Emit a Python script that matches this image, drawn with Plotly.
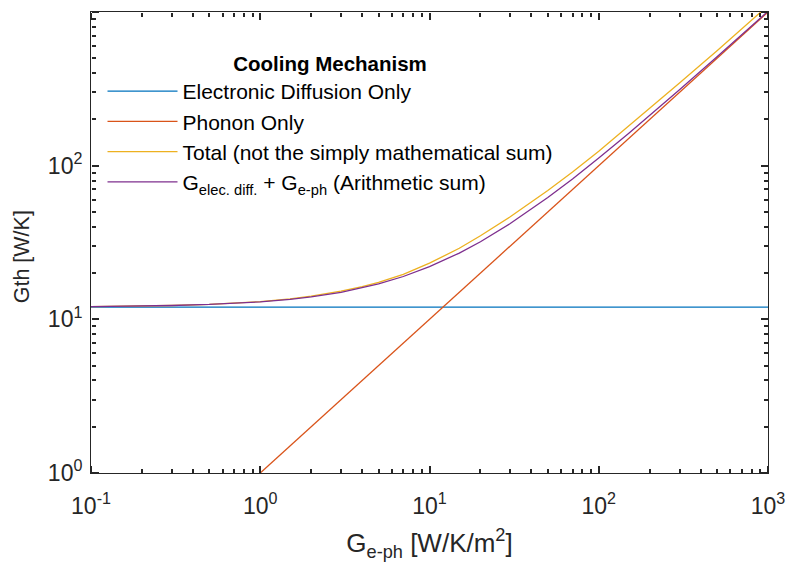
import plotly.graph_objects as go

# Data
g_eph = [0.1, 0.2, 0.3, 0.5, 0.7, 1, 1.5, 2, 3, 4, 5, 7, 10, 15, 20, 30, 50, 70,
         100, 150, 200, 300, 500, 700, 1000]
g_elec_only = [12] * len(g_eph)
g_phonon_only = [0.1, 0.2, 0.3, 0.5, 0.7, 1, 1.5, 2, 3, 4, 5, 7, 10, 15, 20, 30, 50, 70,
                 100, 150, 200, 300, 500, 700, 1000]
g_total = [12.1, 12.2, 12.3, 12.5, 12.7, 13.05, 13.6, 14.15, 15.25, 16.3, 17.4, 19.6,
           23.2, 29, 35, 46.5, 69, 91, 124, 180, 235, 345, 560, 780, 1100]
g_sum = [12.1, 12.2, 12.3, 12.5, 12.7, 13, 13.5, 14, 15, 16, 17, 19, 22, 27, 32, 42,
         62, 82, 112, 162, 212, 312, 512, 712, 1012]

series_names = ["Electronic Diffusion Only", "Phonon Only",
                "Total (not the simply mathematical sum)",
                "G<sub>elec. diff.</sub> + G<sub>e-ph</sub> (Arithmetic sum)"]
series_values = [g_elec_only, g_phonon_only, g_total, g_sum]
colors = ["#0072BD", "#D95319", "#EDB120", "#7E2F8E"]

x_tickvals = [0.1, 1, 10, 100, 1000]
x_ticktext = ["10<sup>-1</sup>", "10<sup>0</sup>", "10<sup>1</sup>", "10<sup>2</sup>", "10<sup>3</sup>"]
y_tickvals = [1, 10, 100, 1000]
y_ticktext = ["10<sup>0</sup>", "10<sup>1</sup>", "10<sup>2</sup>", "10<sup>3</sup>"]

FONT = "Liberation Sans, Arial, Helvetica, sans-serif"
AX = "#262626"
X_RANGE = [-1, 3]
Y_RANGE = [0, 3]
MAJOR_LEN = 7
MINOR_LEN = 4


def minor_vals(decades):
    return [m * d for d in decades for m in range(2, 10)]


x_minor = minor_vals([0.1, 1, 10, 100])
y_minor = minor_vals([1, 10, 100])

fig = go.Figure()
for name, vals, c in zip(series_names, series_values, colors):
    fig.add_trace(go.Scatter(x=g_eph, y=vals, mode="lines", name=name,
                             line=dict(color=c, width=1.3)))

tickfont = dict(family=FONT, size=23, color=AX)
layout_axes = dict(
    xaxis=dict(type="log", range=X_RANGE, showgrid=False, zeroline=False,
               showline=True, linecolor=AX, linewidth=1, mirror=True,
               ticks="outside", ticklen=12, tickcolor="rgba(0,0,0,0)",
               tickmode="array", tickvals=x_tickvals, ticktext=x_ticktext,
               tickfont=tickfont,
               title=dict(text="G<sub>e-ph</sub> [W/K/m<sup>2</sup>]",
                          font=dict(family=FONT, size=26, color=AX), standoff=16)),
    yaxis=dict(type="log", range=Y_RANGE, showgrid=False, zeroline=False,
               showline=True, linecolor=AX, linewidth=1, mirror=True,
               ticks="outside", ticklen=3, tickcolor="rgba(0,0,0,0)",
               tickmode="array", tickvals=y_tickvals, ticktext=y_ticktext,
               tickfont=tickfont),
)

# Tick-only overlay axes: an axis placed on one edge but "sided" to the opposite
# edge draws its outside ticks into the plot area (MATLAB-style inward ticks).
tick_specs = []
n = 2
for vals, length in [(x_tickvals, MAJOR_LEN), (x_minor, MINOR_LEN)]:
    for side, pos in [("top", 0), ("bottom", 1)]:
        name = f"xaxis{n}"
        layout_axes[name] = dict(type="log", range=X_RANGE, overlaying="x", anchor="free",
                                 position=pos, side=side, showgrid=False, zeroline=False,
                                 showline=False, ticks="outside", ticklen=length,
                                 tickcolor=AX, tickwidth=1.5, tickmode="array",
                                 tickvals=vals, showticklabels=False)
        tick_specs.append((f"x{n}", "y"))
        n += 1
n = 2
for vals, length in [(y_tickvals, MAJOR_LEN), (y_minor, MINOR_LEN)]:
    for side, pos in [("right", 0), ("left", 1)]:
        name = f"yaxis{n}"
        layout_axes[name] = dict(type="log", range=Y_RANGE, overlaying="y", anchor="free",
                                 position=pos, side=side, showgrid=False, zeroline=False,
                                 showline=False, ticks="outside", ticklen=length,
                                 tickcolor=AX, tickwidth=1.5, tickmode="array",
                                 tickvals=vals, showticklabels=False)
        tick_specs.append(("x", f"y{n}"))
        n += 1

for xa, ya in tick_specs:
    fig.add_trace(go.Scatter(x=[], y=[], xaxis=xa, yaxis=ya, showlegend=False,
                             hoverinfo="skip"))

fig.add_annotation(text="Gth [W/K]", xref="paper", yref="paper", x=-0.102, y=0.47,
                   xanchor="center", yanchor="middle", textangle=-90, showarrow=False,
                   font=dict(family=FONT, size=21.5, color=AX))

fig.update_layout(
    **layout_axes,
    width=786, height=575,
    margin=dict(l=91, r=18, t=12, b=102, autoexpand=False),
    plot_bgcolor="white", paper_bgcolor="white",
    font=dict(family=FONT, color="black"),
    legend=dict(
        x=0.017, y=0.93, xanchor="left", yanchor="top",
        bgcolor="rgba(255,255,255,0)", borderwidth=0,
        font=dict(family=FONT, size=21, color="black"),
        title=dict(text="<b>Cooling Mechanism</b>", side="top center",
                   font=dict(family=FONT, size=20.5, color="black")),
        itemwidth=70, tracegroupgap=0,
    ),
)

fig.write_html("out.html")
